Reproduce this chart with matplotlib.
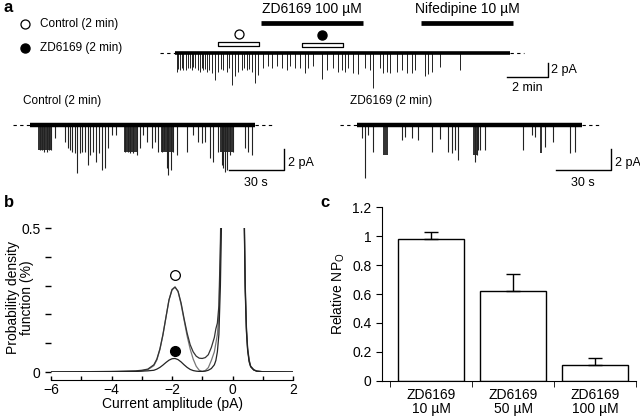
import matplotlib
matplotlib.use("Agg")
import matplotlib.pyplot as plt
from matplotlib.ticker import FixedLocator, FuncFormatter

plt.rcParams["font.family"] = ["Liberation Sans", "DejaVu Sans"]

# =========================
# data
# =========================
# a: long recording (time in min, amplitude in pA)
top_times = [0.08, 0.16, 0.24, 0.33, 0.41, 0.53, 0.65, 0.73, 0.81, 0.90, 0.98, 1.10,
             1.22, 1.30, 1.38, 1.46, 1.55, 1.67, 1.79, 1.95, 2.11, 2.24, 2.36, 2.52,
             2.64, 2.76, 2.93, 3.09, 3.25, 3.38, 3.50, 3.62, 3.74, 3.90, 4.06, 4.31,
             4.55, 4.72, 4.96, 5.20, 5.45, 5.61, 5.85, 6.10, 6.34, 6.50, 6.75, 7.15,
             7.40, 7.72, 7.97, 8.13, 8.29, 8.45, 8.70, 8.94, 9.27, 9.51, 9.67, 10.00,
             10.16, 10.33, 10.49, 10.81, 11.06, 11.30, 11.55, 11.71, 12.20, 12.36,
             12.52, 12.93, 13.90]
top_amps = [-2.8, -2.4, -2.5, -2.2, -2.5, -2.6, -2.3, -2.2, -2.5, -2.1, -2.3, -2.5,
            -2.8, -2.3, -2.5, -2.4, -2.8, -2.6, -3.0, -4.1, -2.8, -2.4, -2.5, -2.8,
            -2.3, -4.8, -3.5, -2.8, -2.5, -2.2, -2.5, -2.4, -2.8, -4.5, -3.3, -2.3,
            -1.9, -2.3, -1.9, -2.3, -2.5, -1.9, -2.3, -2.3, -3.0, -2.3, -1.9, -3.9,
            -2.5, -2.3, -2.8, -2.5, -2.8, -2.3, -3.0, -3.2, -2.3, -2.5, -5.2, -2.3,
            -3.0, -2.8, -3.0, -2.8, -2.5, -3.0, -3.0, -2.5, -3.5, -3.2, -2.8, -2.1,
            -2.5]
top_length = 16.34
zd_bar = [4.2, 9.17]
nif_bar = [12.0, 16.5]
control_window = [2.11, 4.11]
zd_window = [6.2, 8.2]

# a: 2 min segments (time in s, amplitude in pA)
ctrl_times = [5.5, 6.7, 7.8, 9.1, 10.4, 11.5, 13.6, 19.1, 20.6, 21.8, 23.1, 24.5,
              25.8, 27.3, 28.5, 30.0, 31.5, 32.7, 34.5, 35.8, 37.6, 39.4, 40.9, 42.7,
              44.9, 46.8, 51.8, 53.3, 54.7, 56.4, 58.2, 60.0, 61.8, 63.7, 66.4, 68.2,
              70.0, 71.8, 73.1, 74.6, 75.4, 76.8, 78.2, 80.0, 85.5, 89.1, 91.8, 93.7,
              95.5, 98.2, 100.0, 102.7, 104.6, 105.5, 106.4, 107.6, 109.1, 110.9,
              117.3, 119.1, 120.9]
ctrl_amps = [-2.4, -2.4, -2.6, -2.6, -2.4, -2.4, -1.2, -1.6, -2.2, -2.4, -2.6, -2.7,
             -4.6, -2.7, -2.6, -2.6, -3.8, -2.9, -2.6, -3.5, -2.7, -4.3, -4.1, -2.2,
             -1.0, -1.0, -2.6, -2.6, -2.7, -2.7, -2.9, -2.2, -1.0, -1.6, -2.2, -1.6,
             -2.6, -2.6, -2.4, -4.1, -4.8, -4.3, -2.6, -2.9, -2.6, -1.0, -1.6, -1.7,
             -1.6, -3.1, -3.5, -2.6, -3.8, -4.1, -4.5, -4.3, -2.9, -2.6, -2.2, -2.6,
             -2.9]
ctrl_bursts = [(4.5, 12.0, -2.4), (51.5, 58.5, -2.6), (71.5, 78.0, -2.6), (103.5, 110.5, -2.6)]

zd_times = [2.6, 4.4, 6.2, 8.6, 24.4, 26.2, 29.8, 33.4, 40.8, 45.3, 49.8, 51.7, 53.5,
            55.3, 64.3, 65.2, 66.1, 67.0, 69.8, 90.7, 95.3, 97.1, 102.6, 107.1, 116.2,
            119.0]
zd_amps = [-1.2, -5.0, -1.0, -2.6, -1.4, -1.1, -1.2, -1.4, -2.6, -1.3, -2.6, -2.7,
           -2.4, -3.3, -3.5, -2.9, -2.4, -2.4, -2.4, -2.4, -1.0, -1.1, -2.1, -1.6,
           -2.7, -2.6]
zd_bursts = [(14.3, 17.1, -2.9), (63.5, 66.0, -2.9), (99.8, 101.0, -2.7)]
seg_length = 122.7

# b: amplitude histograms
amp_x = [-6, -4, -3.2, -3.0, -2.8, -2.6, -2.5, -2.4, -2.3, -2.2, -2.1, -2.0, -1.9,
         -1.8, -1.7, -1.6, -1.5, -1.4, -1.3, -1.2, -1.1, -1.0, -0.9, -0.8, -0.7,
         -0.6, -0.55, -0.5, -0.45, -0.4, -0.35, -0.3, 0, 0.3, 0.38, 0.42, 0.46, 0.5,
         0.55, 0.6, 0.7, 0.8, 1.0, 2.0]
pdf_control = [0, 0.002, 0.004, 0.006, 0.01, 0.025, 0.045, 0.08, 0.13, 0.19, 0.25,
               0.285, 0.295, 0.28, 0.24, 0.185, 0.135, 0.095, 0.07, 0.055, 0.048,
               0.047, 0.05, 0.06, 0.085, 0.12, 0.15, 0.17, 0.23, 0.45, 0.8, 1.5, 3.0,
               1.5, 0.6, 0.3, 0.15, 0.08, 0.04, 0.02, 0.008, 0.003, 0.001, 0]
pdf_fit = [0, 0.001, 0.002, 0.004, 0.008, 0.022, 0.042, 0.078, 0.128, 0.19, 0.25,
           0.287, 0.295, 0.28, 0.235, 0.18, 0.125, 0.08, 0.045, 0.02, 0.006, 0.002,
           0.005, 0.015, 0.04, 0.07, 0.1, 0.13, 0.2, 0.4, 0.8, 1.5, 3.0, 1.5, 0.62,
           0.31, 0.16, 0.085, 0.042, 0.02, 0.008, 0.003, 0.001, 0]
pdf_zd = [0, 0.001, 0.002, 0.003, 0.004, 0.006, 0.01, 0.016, 0.024, 0.033, 0.041,
          0.046, 0.047, 0.043, 0.035, 0.025, 0.016, 0.009, 0.005, 0.003, 0.002,
          0.002, 0.003, 0.006, 0.012, 0.025, 0.04, 0.07, 0.13, 0.3, 0.6, 1.2, 3.0,
          1.4, 0.58, 0.28, 0.14, 0.075, 0.035, 0.018, 0.007, 0.003, 0.001, 0]

# c: relative NPo
conditions = ["ZD6169\n10 µM", "ZD6169\n50 µM", "ZD6169\n100 µM"]
npo_mean = [0.98, 0.62, 0.11]
npo_sem = [0.05, 0.12, 0.05]

# =========================
# figure
# =========================
fig = plt.figure(figsize=(6.4, 4.2), dpi=100)

# overlay in pixel units for panel letters, legend and the b y-label
ov = fig.add_axes([0, 0, 1, 1])
ov.set_xlim(0, 640)
ov.set_ylim(420, 0)
ov.axis("off")
ov.text(3, 0, "a", fontsize=12, fontweight="bold", va="top")
ov.text(4, 195, "b", fontsize=12, fontweight="bold", va="top")
ov.text(320, 195, "c", fontsize=12, fontweight="bold", va="top")
ov.plot(25, 24, "o", ms=6.5, mfc="white", mec="k", mew=0.9)
ov.plot(25, 48, "o", ms=6.5, mfc="k", mec="k")
ov.text(40, 24, "Control (2 min)", fontsize=8.5, va="center")
ov.text(40, 48, "ZD6169 (2 min)", fontsize=8.5, va="center")
ov.text(20, 298, "Probability density\nfunction (%)", rotation=90, ha="center",
        va="center", fontsize=10, linespacing=0.95)

# ---- a: top trace ----
ax = fig.add_axes([150 / 640, 1 - 95 / 420, 450 / 640, 95 / 420])
ax.set_xlim(-1.22, 20.73)
ax.set_ylim(-6.3, 7.95)
ax.axis("off")
ax.plot([-0.73, 0], [0, 0], color="k", lw=0.8, ls=(0, (3, 3)))
ax.plot([top_length, 17.0], [0, 0], color="k", lw=0.8, ls=(0, (3, 3)))
ax.vlines(top_times, 0, top_amps, color="#222222", lw=0.7)
ax.plot([0, top_length], [0, 0], color="k", lw=2.6, solid_capstyle="butt")
ax.plot(zd_bar, [4.45, 4.45], color="k", lw=3.4, solid_capstyle="butt")
ax.plot(nif_bar, [4.45, 4.45], color="k", lw=3.4, solid_capstyle="butt")
ax.text(sum(zd_bar) / 2, 6.6, "ZD6169 100 µM", ha="center", va="center", fontsize=10)
ax.text(sum(nif_bar) / 2, 6.6, "Nifedipine 10 µM", ha="center", va="center", fontsize=10)
ax.fill_between(control_window, 1.0, 1.7, facecolor="white", edgecolor="k", lw=0.9)
ax.fill_between(zd_window, 0.85, 1.55, facecolor="white", edgecolor="k", lw=0.9)
ax.plot(sum(control_window) / 2, 2.8, "o", ms=6.5, mfc="white", mec="k", mew=0.9)
ax.plot(sum(zd_window) / 2 - 0.05, 2.7, "o", ms=6.5, mfc="k", mec="k")
# scale bar
ax.plot([16.18, 18.18, 18.18], [-3.55, -3.55, -1.55], color="k", lw=1.0)
ax.text(18.35, -2.55, "2 pA", va="center", fontsize=9)
ax.text(17.18, -5.25, "2 min", ha="center", va="center", fontsize=9)


def draw_segment(rect, x0, label, times, amps, bursts):
    a = fig.add_axes(rect)
    a.set_xlim(x0, x0 + 158.2)
    a.set_ylim(-6.19, 3.14)
    a.axis("off")
    a.plot([-9.3, 0], [0, 0], color="k", lw=0.8, ls=(0, (3, 3)))
    a.plot([seg_length, 132.6], [0, 0], color="k", lw=0.8, ls=(0, (3, 3)))
    for start, end, amp in bursts:
        a.fill_between([start, end], amp, 0, color="#111111", lw=0, alpha=0.85)
    a.vlines(times, 0, amps, color="#222222", lw=0.8)
    a.plot([0, seg_length], [0, 0], color="k", lw=3.2, solid_capstyle="butt")
    a.text(-4.0, 2.3, label, fontsize=8.5, va="center")
    # scale bar
    a.plot([108.6, 138.6, 138.6], [-4.25, -4.25, -2.25], color="k", lw=1.0)
    a.text(140.5, -3.6, "2 pA", va="center", fontsize=9)
    a.text(123.3, -5.5, "30 s", ha="center", va="center", fontsize=9)
    return a


draw_segment([10 / 640, 1 - 190 / 420, 290 / 640, 98 / 420], -10.91,
             "Control (2 min)", ctrl_times, ctrl_amps, ctrl_bursts)
draw_segment([330 / 640, 1 - 190 / 420, 290 / 640, 98 / 420], -14.73,
             "ZD6169 (2 min)", zd_times, zd_amps, zd_bursts)

# ---- b: probability density ----
axb = fig.add_axes([51 / 640, 48 / 420, 242 / 640, 144 / 420])
axb.plot(amp_x, pdf_fit, color="#777777", lw=0.9)
axb.plot(amp_x, pdf_control, color="#333333", lw=0.9)
axb.plot(amp_x, pdf_zd, color="#222222", lw=0.9)
axb.plot(-1.9, 0.338, "o", ms=7, mfc="white", mec="k", mew=0.9)
axb.plot(-1.9, 0.073, "o", ms=7, mfc="k", mec="k")
axb.set_xlim(-6, 2)
axb.set_ylim(0, 0.5)
axb.spines["top"].set_visible(False)
axb.spines["right"].set_visible(False)
axb.spines["left"].set_visible(False)
axb.spines["bottom"].set_position(("outward", 6))
axb.set_xticks([-6, -4, -2, 0, 2])
axb.set_xticks([-5, -3, -1, 1], minor=True)
axb.set_yticks([0, 0.5])
axb.set_yticklabels(["0", "0.5"])
axb.yaxis.set_minor_locator(FixedLocator([0.1, 0.2, 0.3, 0.4]))
axb.tick_params(axis="y", which="both", direction="out", length=4, width=1, labelsize=10)
axb.tick_params(axis="x", which="both", direction="in", length=3, width=1,
                labelsize=10, pad=2)
axb.set_xlabel("Current amplitude (pA)", fontsize=10, labelpad=0)

# ---- c: relative NPo ----
axc = fig.add_axes([382 / 640, 1 - 380.7 / 420, 254 / 640, 173.4 / 420])
pos = [0, 1, 2]
axc.bar(pos, npo_mean, width=0.8, color="white", edgecolor="k", lw=1.0,
        yerr=[[0, 0, 0], npo_sem], capsize=5,
        error_kw={"elinewidth": 1.0, "capthick": 1.0, "ecolor": "k"})
axc.set_xlim(-0.6, 2.5)
axc.set_ylim(0, 1.2)
axc.spines["top"].set_visible(False)
axc.spines["right"].set_visible(False)
axc.set_xticks(pos)
axc.set_xticklabels(conditions, fontsize=10, linespacing=1.0)
axc.set_xticks([-0.5, 0.5, 1.5, 2.5], minor=True)
axc.tick_params(axis="x", which="major", length=0, pad=5)
axc.tick_params(axis="x", which="minor", length=4, direction="out")
axc.set_yticks([0, 0.2, 0.4, 0.6, 0.8, 1.0, 1.2])
axc.yaxis.set_major_formatter(FuncFormatter(lambda v, p: f"{v:g}"))
axc.tick_params(axis="y", direction="out", length=4, labelsize=10)
axc.set_ylabel("Relative NP$_\\mathregular{O}$", fontsize=10, labelpad=4)

fig.savefig("out.png", dpi=100)
